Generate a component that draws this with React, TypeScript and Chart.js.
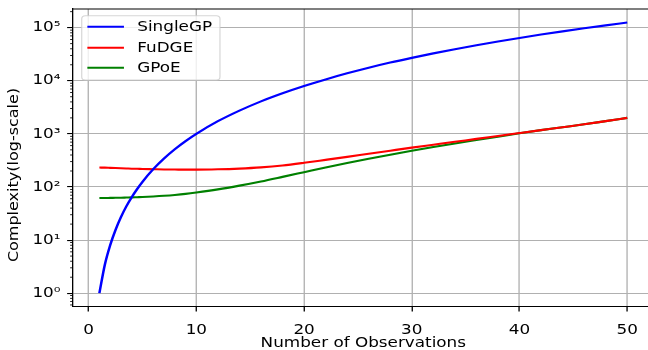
import React, { useEffect, useRef } from "react";
import { Chart, registerables } from "chart.js";

Chart.register(...registerables);

// ---- data ----
const observations = [1, 1.5, 2, 2.5, 3, 3.5, 4, 4.5, 5, 6, 7, 8, 9, 10, 12, 14, 16, 18, 20, 22, 24, 26, 28, 30, 32, 34, 36, 38, 40, 42, 44, 46, 48, 50];
const singleGP = [1, 3.4, 8, 15.6, 27, 43, 64, 91, 125, 216, 343, 512, 729, 1000, 1730, 2740, 4100, 5830, 8000, 10600, 13800, 17600, 22000, 27000, 32800, 39300, 46700, 54900, 64000, 74100, 85200, 97300, 110600, 125000];
const fuDGE = [232, 231, 229, 227, 225, 223, 221, 220, 218, 216, 214, 213, 212, 212, 215, 222, 234, 254, 285, 324, 369, 422, 482, 550, 624, 708, 804, 912, 1035, 1175, 1335, 1515, 1740, 2000];
const gPoE = [62, 62, 62.3, 62.5, 62.8, 63.2, 63.6, 64.2, 64.8, 66.3, 68.2, 70.7, 74, 78.5, 90, 106, 127, 155, 190, 233, 283, 340, 405, 480, 565, 660, 765, 885, 1025, 1175, 1335, 1515, 1740, 2000];
const seriesLabels = ["SingleGP", "FuDGE", "GPoE"];
const seriesColors = ["#0000ff", "#ff0000", "#008000"];
const xTickValues = [0, 10, 20, 30, 40, 50];
const yTickValues = [1, 10, 100, 1000, 10000, 100000];
const xTitle = "Number of Observations";
const yTitle = "Complexity(log-scale)";

const SUP = "⁰¹²³⁴⁵⁶⁷⁸⁹";
const toSup = (n: number) => String(n).split("").map((d) => SUP[+d]).join("");

const W = 648;
const H = 350;
const SX = 1.2; // horizontal stretch of the reference picture
const FONT = "'DejaVu Sans', sans-serif";

const stretchPlugin = {
  id: "stretchAndDecor",
  beforeDraw(chart: any) {
    chart.ctx.setTransform(SX, 0, 0, 1, 0, 0);
  },
  afterDraw(chart: any) {
    const ctx = chart.ctx as CanvasRenderingContext2D;
    const area = chart.chartArea;
    const yScale = chart.scales.y;

    // top spine
    ctx.save();
    ctx.strokeStyle = "#000";
    ctx.lineWidth = 1.1;
    ctx.beginPath();
    ctx.moveTo(area.left, area.top);
    ctx.lineTo(area.right + 2, area.top);
    ctx.stroke();

    // minor log ticks on y
    ctx.lineWidth = 0.85;
    for (let k = -1; k <= 5; k++) {
      for (let m = 2; m <= 9; m++) {
        const v = m * Math.pow(10, k);
        if (v < yScale.min || v > yScale.max) continue;
        const py = yScale.getPixelForValue(v);
        ctx.beginPath();
        ctx.moveTo(area.left - 2.4, py);
        ctx.lineTo(area.left, py);
        ctx.stroke();
      }
    }

    // x axis title
    ctx.fillStyle = "#000";
    ctx.font = `14px ${FONT}`;
    ctx.textAlign = "center";
    ctx.textBaseline = "alphabetic";
    ctx.fillText(xTitle, (area.left + area.right) / 2, 347);

    // legend
    const bx = 68.1, by = 15.7, bw = 115.2, bh = 64.3, r = 3;
    ctx.beginPath();
    ctx.moveTo(bx + r, by);
    ctx.lineTo(bx + bw - r, by);
    ctx.quadraticCurveTo(bx + bw, by, bx + bw, by + r);
    ctx.lineTo(bx + bw, by + bh - r);
    ctx.quadraticCurveTo(bx + bw, by + bh, bx + bw - r, by + bh);
    ctx.lineTo(bx + r, by + bh);
    ctx.quadraticCurveTo(bx, by + bh, bx, by + bh - r);
    ctx.lineTo(bx, by + r);
    ctx.quadraticCurveTo(bx, by, bx + r, by);
    ctx.closePath();
    ctx.fillStyle = "rgba(255,255,255,0.8)";
    ctx.fill();
    ctx.strokeStyle = "rgba(204,204,204,0.8)";
    ctx.lineWidth = 1;
    ctx.stroke();
    const rows = [26.7, 47.7, 67.7];
    chart.data.datasets.forEach((ds: any, i: number) => {
      const ry = rows[i];
      ctx.strokeStyle = ds.borderColor;
      ctx.lineWidth = 2.1;
      ctx.beginPath();
      ctx.moveTo(72.8, ry);
      ctx.lineTo(103.3, ry);
      ctx.stroke();
      ctx.fillStyle = "#000";
      ctx.font = `14px ${FONT}`;
      ctx.textAlign = "left";
      ctx.textBaseline = "middle";
      ctx.fillText(ds.label, 114.4, ry + 0.5);
    });
    ctx.restore();

    // y axis title, drawn in real pixels (condensed across)
    ctx.save();
    ctx.setTransform(1, 0, 0, 1, 0, 0);
    ctx.translate(14.5, 175);
    ctx.rotate(-Math.PI / 2);
    ctx.scale(1, 0.85);
    ctx.fillStyle = "#000";
    ctx.font = `16px ${FONT}`;
    ctx.textAlign = "center";
    ctx.textBaseline = "middle";
    ctx.fillText(yTitle, 0, 0);
    ctx.restore();

    ctx.setTransform(1, 0, 0, 1, 0, 0);
  },
};

export default function App() {
  const ref = useRef<HTMLCanvasElement | null>(null);

  useEffect(() => {
    if (!ref.current) return;
    const series = [singleGP, fuDGE, gPoE];
    const chart = new Chart(ref.current, {
      type: "line",
      data: {
        datasets: series.map((vals, i) => ({
          label: seriesLabels[i],
          data: observations.map((x, j) => ({ x, y: vals[j] })),
          borderColor: seriesColors[i],
          backgroundColor: seriesColors[i],
          borderWidth: 2.1,
          pointRadius: 0,
          cubicInterpolationMode: "monotone" as const,
          fill: false,
        })),
      },
      plugins: [stretchPlugin],
      options: {
        responsive: false,
        animation: false,
        devicePixelRatio: 1,
        events: [],
        layout: { padding: { top: 9, right: 103.3, left: 0, bottom: 0 } },
        plugins: {
          legend: { display: false },
          tooltip: { enabled: false },
          title: { display: false },
        },
        scales: {
          x: {
            type: "linear",
            min: -1.45,
            max: 52.45,
            afterFit: (scale: any) => {
              scale.height = 43.3;
              scale.paddingLeft = 0;
              scale.paddingRight = 0;
            },
            afterBuildTicks: (axis: any) => {
              axis.ticks = xTickValues.map((v) => ({ value: v }));
            },
            grid: {
              color: "#b0b0b0",
              lineWidth: 1.1,
              tickColor: "#000",
              tickLength: 4.9,
              drawTicks: true,
            },
            border: { display: true, color: "#000", width: 1.1 },
            ticks: {
              color: "#000",
              padding: 10,
              maxRotation: 0,
              autoSkip: false,
              font: { family: FONT, size: 14 },
              callback: (v: any) => String(v),
            },
          },
          y: {
            type: "logarithmic",
            min: 0.5561,
            max: 224770,
            afterFit: (scale: any) => {
              scale.width = 60.83;
              scale.paddingTop = 0;
              scale.paddingBottom = 0;
            },
            afterBuildTicks: (axis: any) => {
              axis.ticks = yTickValues.map((v) => ({ value: v }));
            },
            grid: {
              color: "#b0b0b0",
              lineWidth: 1.1,
              tickColor: "#000",
              tickLength: 4.9,
              drawTicks: true,
            },
            border: { display: true, color: "#000", width: 1.1 },
            ticks: {
              color: "#000",
              padding: 5.5,
              autoSkip: false,
              font: { family: FONT, size: 14 },
              callback: (v: any) => "10" + toSup(Math.round(Math.log10(Number(v)))),
            },
          },
        },
      },
    });
    return () => chart.destroy();
  }, []);

  return (
    <div style={{ position: "fixed", left: 0, top: 0, width: W, height: H, background: "#fff" }}>
      <canvas ref={ref} width={W} height={H} style={{ display: "block", width: W, height: H }} />
    </div>
  );
}
